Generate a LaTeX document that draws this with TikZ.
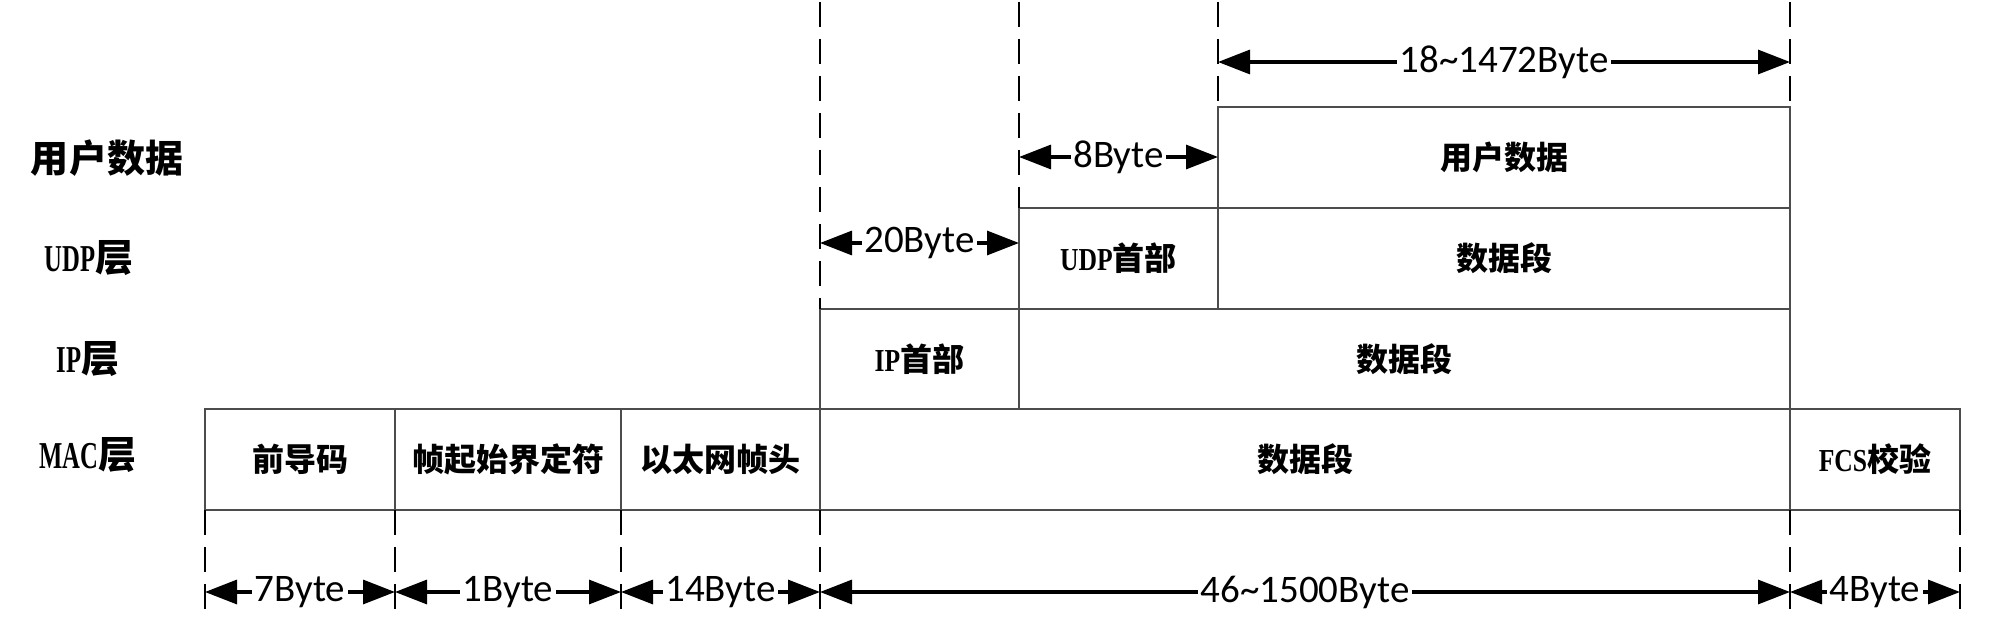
\documentclass[tikz,border=0pt]{standalone}
\usepackage{fontspec}
\usepackage{graphicx}
\setmainfont{Liberation Serif}
\newfontfamily\cjk{Noto Sans CJK SC}
\newfontfamily\bytefont{Carlito}
\usetikzlibrary{arrows.meta}
\tikzset{
  cell/.style={draw=black!70, line width=1pt, inner sep=0pt, outer sep=0pt,
    font=\fontsize{16}{16}\selectfont\bfseries},
  rowlabel/.style={inner sep=0pt, font=\fontsize{19}{19}\selectfont\bfseries},
  dashline/.style={line width=1.35pt, dash pattern=on 12.5pt off 6pt},
  dimarrow/.style={line width=1.6pt,
    {Triangle[length=16pt,width=12pt]}-{Triangle[length=16pt,width=12pt]}},
  bytelbl/.style={fill=white, inner xsep=1.2pt, inner ysep=0pt,
    font=\bytefont\fontsize{19.5}{19.5}\selectfont},
}
\newcommand\mkcell[6]{%
  \node[cell, minimum width={(#3-#2)*0.5pt}, minimum height={(#5-#4)*0.5pt}]
    (#1) at ({(#2+#3)/2},{(#4+#5)/2}) {#6};}
\newcommand\narrowlat[2]{\scalebox{#1}[1]{#2}}
\begin{document}
\begin{tikzpicture}[x=0.5pt,y=-0.5pt]
\useasboundingbox (0,0) rectangle (2000,630);
% row labels
\node[rowlabel] (lUsr) at (107,158) {\cjk 用户数据};
\node[rowlabel] (lUdp) at (89,258) {\narrowlat{0.65}{UDP}{\cjk 层}};
\node[rowlabel] (lIp)  at (88,359) {\narrowlat{0.65}{IP}{\cjk 层}};
\node[rowlabel] (lMac) at (88,455) {\narrowlat{0.65}{MAC}{\cjk 层}};
% MAC row
\mkcell{mac1}{205}{395}{409}{510}{\cjk 前导码}
\mkcell{mac2}{395}{621}{409}{510}{\cjk 帧起始界定符}
\mkcell{mac3}{621}{820}{409}{510}{\cjk 以太网帧头}
\mkcell{mac4}{820}{1790}{409}{510}{\cjk 数据段}
\mkcell{mac5}{1790}{1960}{409}{510}{\narrowlat{0.8}{FCS}{\cjk 校验}}
% IP row
\mkcell{ip1}{820}{1019}{309}{409}{\narrowlat{0.8}{IP}{\cjk 首部}}
\mkcell{ip2}{1019}{1790}{309}{409}{\cjk 数据段}
% UDP row
\mkcell{udp1}{1019}{1218}{208}{309}{\narrowlat{0.8}{UDP}{\cjk 首部}}
\mkcell{udp2}{1218}{1790}{208}{309}{\cjk 数据段}
% user data
\mkcell{usr}{1218}{1790}{107}{208}{\cjk 用户数据}
% top dashed lines
\coordinate (t1) at (820,2);
\coordinate (t2) at (1019,2);
\coordinate (t3) at (1218,2);
\coordinate (t4) at (1790,2);
\draw[dashline] (t1) -- (ip1.north west);
\draw[dashline] (t2) -- (udp1.north west);
\draw[dashline] (t3) -- (usr.north west);
\draw[dashline] (t4) -- (usr.north east);
% bottom dashed lines
\coordinate (b1) at (205,612);
\coordinate (b2) at (395,612);
\coordinate (b3) at (621,612);
\coordinate (b4) at (820,612);
\coordinate (b5) at (1790,612);
\coordinate (b6) at (1960,612);
\draw[dashline] (mac1.south west) -- (b1);
\draw[dashline] (mac2.south west) -- (b2);
\draw[dashline] (mac3.south west) -- (b3);
\draw[dashline] (mac4.south west) -- (b4);
\draw[dashline] (mac5.south west) -- (b5);
\draw[dashline] (mac5.south east) -- (b6);
% dimension arrows (top)
\coordinate (d1a) at (1218,62);  \coordinate (d1b) at (1790,62);
\coordinate (d2a) at (1019,157); \coordinate (d2b) at (1218,157);
\coordinate (d3a) at (820,243);  \coordinate (d3b) at (1019,243);
\draw[dimarrow] (d1a) -- (d1b) node[midway, bytelbl] (n1) {18\textasciitilde1472Byte};
\draw[dimarrow] (d2a) -- (d2b) node[midway, bytelbl] (n2) {8Byte};
\draw[dimarrow] (d3a) -- (d3b) node[midway, bytelbl] (n3) {20Byte};
% dimension arrows (bottom)
\coordinate (e1) at (205,592);
\coordinate (e2) at (395,592);
\coordinate (e3) at (621,592);
\coordinate (e4) at (820,592);
\coordinate (e5) at (1790,592);
\coordinate (e6) at (1960,592);
\draw[dimarrow] (e1) -- (e2) node[midway, bytelbl] (m1) {7Byte};
\draw[dimarrow] (e2) -- (e3) node[midway, bytelbl] (m2) {1Byte};
\draw[dimarrow] (e3) -- (e4) node[midway, bytelbl] (m3) {14Byte};
\draw[dimarrow] (e4) -- (e5) node[midway, bytelbl] (m4) {46\textasciitilde1500Byte};
\draw[dimarrow] (e5) -- (e6) node[midway, bytelbl] (m5) {4Byte};
\end{tikzpicture}
\end{document}
